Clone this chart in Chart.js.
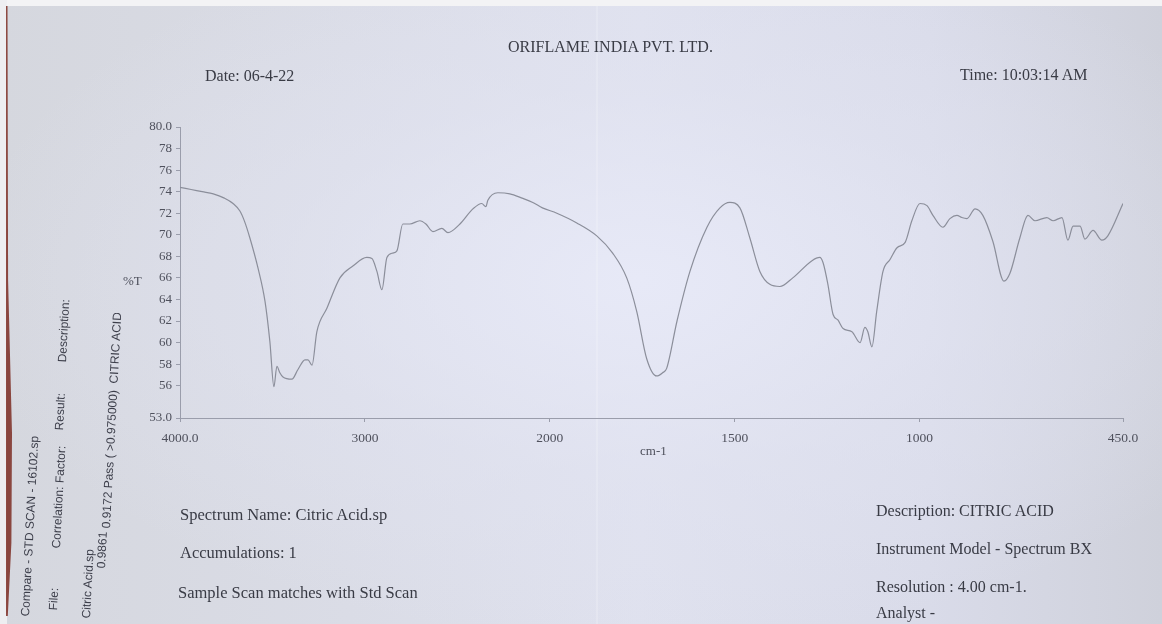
<!DOCTYPE html>
<html>
<head>
<meta charset="utf-8">
<script src="https://cdn.jsdelivr.net/npm/chart.js@4.4.1/dist/chart.umd.min.js"></script>
<style>
  html, body { margin: 0; padding: 0; }
  body {
    width: 1162px; height: 624px; overflow: hidden; position: relative;
    background:
      radial-gradient(ellipse at 55% 45%, rgba(232,234,248,0.9) 0%, rgba(226,228,242,0.5) 40%, rgba(210,212,222,0) 75%),
      linear-gradient(90deg, #d5d7de 0%, #dadce6 30%, #dfe1ee 55%, #d9dbe9 80%, #cfd1db 100%);
    font-family: "Liberation Serif", "DejaVu Serif", serif;
    color: #393b45;
  }
  #topEdge { position: absolute; left: 0; top: 0; width: 1162px; height: 6px; background: #f3f3f5; }
  #leftEdge { position: absolute; left: 0; top: 0; width: 7px; height: 624px; background: #eeeef1; }
  #leftBand {
    position: absolute; left: 6px; top: 6px; width: 6px; height: 610px;
    background: rgba(125,45,35,0.85);
    clip-path: polygon(0 0, 25% 0, 35% 45%, 100% 70%, 90% 88%, 30% 100%, 0 100%);
  }
  #crease { position: absolute; left: 596px; top: 6px; width: 2px; height: 618px; background: rgba(255,255,255,0.18); }
  #chartBox { position: absolute; left: 0; top: 0; width: 1162px; height: 624px; }
  .t { position: absolute; white-space: nowrap; font-size: 16px; line-height: 18px; }
  .b { font-size: 16.5px; }
  .ax { position: absolute; white-space: nowrap; font-size: 13px; line-height: 15px; color: #4e505c; }
  .rot {
    position: absolute; white-space: nowrap; transform-origin: 0 0; transform: rotate(-87deg);
    font-family: "Liberation Sans", Arial, sans-serif; font-size: 12px; line-height: 14px; color: #3c3e4a;
  }
  #clipTop { position: absolute; left: 0; top: 313px; width: 140px; height: 311px; overflow: hidden; }
</style>
</head>
<body>
<div id="topEdge"></div>
<div id="leftEdge"></div>
<div id="leftBand"></div>
<div id="crease"></div>
<div id="chartBox"><canvas id="chart-spectrum" width="1162" height="624"></canvas></div>

<div class="t" style="left:508px; top:38px;">ORIFLAME INDIA PVT. LTD.</div>
<div class="t" style="left:205px; top:67px;">Date: 06-4-22</div>
<div class="t" style="left:960px; top:66px;">Time: 10:03:14 AM</div>

<div class="ax" style="left:123px; top:273px;">%T</div>
<div class="ax" style="left:640px; top:443px;">cm-1</div>

<div class="t b" style="left:180px; top:506px;">Spectrum Name: Citric Acid.sp</div>
<div class="t b" style="left:180px; top:544px;">Accumulations: 1</div>
<div class="t b" style="left:178px; top:584px;">Sample Scan matches with Std Scan</div>
<div class="t" style="left:876px; top:502px;">Description: CITRIC ACID</div>
<div class="t" style="left:876px; top:540px;">Instrument Model - Spectrum BX</div>
<div class="t" style="left:876px; top:578px;">Resolution : 4.00 cm-1.</div>
<div class="t" style="left:876px; top:604px;">Analyst -</div>

<div class="rot" style="left:18px; top:616px;">Compare - STD SCAN - 16102.sp</div>
<div class="rot" style="left:46px; top:610px;">File:</div>
<div class="rot" style="left:49px; top:548px;">Correlation: Factor:</div>
<div class="rot" style="left:52px; top:430px;">Result:</div>
<div class="rot" style="left:55px; top:362px;">Description:</div>
<div class="rot" style="left:79px; top:618px;">Citric Acid.sp</div>
<div class="rot" style="left:94px; top:568px;">0.9861</div>
<div id="clipTop">
  <div class="rot" style="left:99px; top:215px;">0.9172 Pass ( &gt;0.975000)&nbsp; CITRIC ACID</div>
</div>

<script>
// IR spectrum, citric acid
const WAVENUMBERS = [
    4000, 3940, 3880, 3820, 3760, 3713, 3676, 3650, 3622, 3578, 3540, 3514, 3492, 3476, 3460, 3443,
    3395, 3362, 3324, 3308, 3286, 3260, 3205, 3135, 3065, 2990, 2962, 2935, 2908, 2881, 2849, 2827,
    2795, 2757, 2703, 2670, 2632, 2584, 2551, 2486, 2416, 2368, 2346, 2335, 2281, 2216, 2150, 2092,
    2040, 1981, 1927, 1873, 1830, 1792, 1765, 1738, 1711, 1695, 1684, 1656, 1621, 1575, 1540, 1513,
    1486, 1459, 1432, 1405, 1378, 1343, 1291, 1270, 1261, 1248, 1234, 1221, 1207, 1183, 1161, 1148,
    1140, 1129, 1116, 1099, 1080, 1061, 1039, 1021, 999, 980, 964, 937, 918, 899, 886, 872,
    850, 829, 802, 772, 756, 729, 707, 688, 656, 639, 615, 599, 585, 566, 553, 531,
    507, 491, 450,
];
const TRANSMITTANCE = [
    74.4, 74.2, 74.0, 73.8, 73.4, 72.9, 72.2, 71.2, 69.7, 66.9, 63.8, 60.1, 55.9, 57.8, 57.2, 56.8,
    56.6, 57.5, 58.4, 58.4, 57.9, 61.0, 63.2, 66.0, 67.1, 67.9, 67.8, 66.6, 64.9, 67.9, 68.3, 68.5,
    71.0, 71.0, 71.3, 71.0, 70.3, 70.6, 70.2, 71.0, 72.4, 72.9, 72.6, 73.2, 73.9, 73.8, 73.4, 73.0,
    72.5, 72.0, 71.1, 69.9, 68.3, 66.0, 62.9, 58.5, 56.9, 57.2, 57.6, 62.0, 66.6, 70.7, 72.5, 73.0,
    72.5, 69.7, 66.6, 65.4, 65.2, 66.0, 67.6, 67.9, 67.4, 65.4, 62.6, 62.1, 61.3, 61.0, 60.0, 61.4,
    61.0, 59.6, 62.9, 66.6, 67.7, 68.8, 69.3, 71.3, 72.9, 72.7, 71.8, 70.7, 71.5, 71.8, 71.6, 71.5,
    72.4, 71.8, 69.4, 65.7, 66.4, 69.7, 71.8, 71.3, 71.6, 71.3, 71.6, 69.5, 70.8, 70.8, 69.6, 70.4,
    69.5, 69.9, 72.9,
];
const X_TICKS = [4000, 3000, 2000, 1500, 1000, 450];
const X_TICK_LABELS = ['4000.0', '3000', '2000', '1500', '1000', '450.0'];
const Y_TICKS = [53, 56, 58, 60, 62, 64, 66, 68, 70, 72, 74, 76, 78, 80];
const Y_TICK_LABELS = ['53.0', '56', '58', '60', '62', '64', '66', '68', '70', '72', '74', '76', '78', '80.0'];

const INK = '#8b8e9a';
const AXIS = '#9a9dab';
const LABEL = '#4f515d';

// the printout runs 4000-2000 at half the scale of 2000-450
function wnToPos(w) {
    return w >= 2000 ? (4000 - w) / 2 : 1000 + (2000 - w);
}

const points = WAVENUMBERS.map((w, i) => ({ x: wnToPos(w), y: TRANSMITTANCE[i] }));

const ctx = document.getElementById('chart-spectrum').getContext('2d');
new Chart(ctx, {
    type: 'line',
    data: {
        datasets: [{
            label: 'Citric Acid.sp',
            data: points,
            borderColor: INK,
            borderWidth: 1.2,
            pointRadius: 0,
            cubicInterpolationMode: 'monotone',
            fill: false,
        }],
    },
    options: {
        responsive: false,
        animation: false,
        layout: { padding: { top: 127, right: 39, bottom: 176, left: 120 } },
        plugins: { legend: { display: false }, tooltip: { enabled: false } },
        scales: {
            x: {
                type: 'linear',
                min: wnToPos(4000),
                max: wnToPos(450),
                afterBuildTicks: s => { s.ticks = X_TICKS.map(w => ({ value: wnToPos(w) })); },
                afterFit: s => { s.height = 30; },
                ticks: {
                    autoSkip: false,
                    maxRotation: 0,
                    padding: 8,
                    color: LABEL,
                    font: { family: 'Liberation Serif', size: 13.5 },
                    callback: (v, i) => X_TICK_LABELS[i],
                },
                grid: { drawOnChartArea: false, drawTicks: true, tickLength: 4, color: AXIS },
                border: { display: true, color: AXIS, width: 1 },
            },
            y: {
                min: 53,
                max: 80,
                afterBuildTicks: s => { s.ticks = Y_TICKS.map(v => ({ value: v })); },
                afterFit: s => { s.width = 60; },
                ticks: {
                    autoSkip: false,
                    padding: 4,
                    color: LABEL,
                    font: { family: 'Liberation Serif', size: 13 },
                    callback: (v, i) => Y_TICK_LABELS[i],
                },
                grid: { drawOnChartArea: false, drawTicks: true, tickLength: 4, color: AXIS },
                border: { display: true, color: AXIS, width: 1 },
            },
        },
    },
});
</script>
</body>
</html>
